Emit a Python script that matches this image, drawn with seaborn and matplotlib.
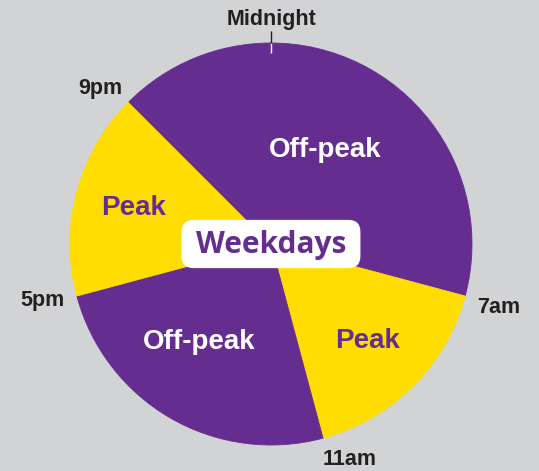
import numpy as np
import matplotlib
matplotlib.use("Agg")
import matplotlib.pyplot as plt
import seaborn as sns
from matplotlib.patches import FancyBboxPatch


# hours of the day (clockwise from midnight) for each band
BAND_HOURS = [7, 4, 6, 4, 3]
BAND_KIND = ["Off-peak", "Peak", "Off-peak", "Peak", "Off-peak"]
CLOCK_LABELS = ["Midnight", "7am", "11am", "5pm", "9pm"]
CLOCK_HOURS = [0, 7, 11, 17, 21]
CENTRE_LABEL = "Weekdays"

PURPLE = "#662d91"
YELLOW = "#ffdd00"
BACKGROUND = "#d1d3d4"
TEXT_DARK = "#231f20"


def hour_xy(hour, radius):
    angle = np.deg2rad(90 - hour / 24 * 360)
    return radius * np.cos(angle), radius * np.sin(angle)


def main() -> None:
    sns.set_theme(style="white")
    plt.rcParams["font.family"] = ["Liberation Sans", "DejaVu Sans"]

    fig = plt.figure(figsize=(5.39, 4.71), dpi=100, facecolor=BACKGROUND)
    ax = fig.add_axes([0, 0, 1, 1])
    ax.set_facecolor(BACKGROUND)

    colors = [PURPLE if k == "Off-peak" else YELLOW for k in BAND_KIND]
    ax.pie(
        BAND_HOURS,
        colors=colors,
        startangle=90,
        counterclock=False,
        radius=1,
        wedgeprops={"linewidth": 0.6, "edgecolor": None},
    )
    for w, c in zip(ax.patches, colors):
        w.set_edgecolor(c)

    # band labels (top off-peak spans 9pm -> 7am)
    band_labels = [
        ("Off-peak", 0.269, 0.468, "white"),
        ("Peak", 0.478, -0.483, PURPLE),
        ("Off-peak", -0.358, -0.488, "white"),
        ("Peak", -0.682, 0.179, PURPLE),
    ]
    for text, x, y, color in band_labels:
        ax.text(x, y, text, ha="center", va="center", color=color,
                fontsize=20, fontweight="bold")

    # clock labels
    nudges = {
        "Midnight": (0.0, 1.115),
        "7am": (1.134, -0.318),
        "11am": (0.393, -1.072),
        "5pm": (-1.139, -0.279),
        "9pm": (-0.851, 0.776),
    }
    for label, hour in zip(CLOCK_LABELS, CLOCK_HOURS):
        x, y = nudges[label]
        ax.text(x, y, label, ha="center", va="center", color=TEXT_DARK,
                fontsize=15.5, fontweight="bold")

    # midnight tick
    x0, y0 = hour_xy(0, 0.95)
    x1, y1 = hour_xy(0, 1.0)
    x2, y2 = hour_xy(0, 1.06)
    ax.plot([x0, x1], [y0, y1], color="white", linewidth=1, solid_capstyle="butt")
    ax.plot([x1, x2], [y1, y2], color=TEXT_DARK, linewidth=1, solid_capstyle="butt")

    # centre label
    box = FancyBboxPatch(
        (-0.445, -0.12), 0.89, 0.24,
        boxstyle="round,pad=0,rounding_size=0.06",
        facecolor="white", edgecolor="none", zorder=3,
    )
    ax.add_patch(box)
    ax.text(0.0, -0.005, CENTRE_LABEL, ha="center", va="center", color=PURPLE,
            fontsize=21.5, fontweight="bold", zorder=4,
            family=["Open Sans", "DejaVu Sans"])

    ax.set_xlim(-271 / 201, (539 - 271) / 201)
    ax.set_ylim(-(471 - 244) / 201, 244 / 201)
    ax.set_aspect("equal")
    ax.axis("off")

    fig.savefig("out.png", dpi=100, facecolor=BACKGROUND)
    plt.close(fig)


if __name__ == "__main__":
    main()
